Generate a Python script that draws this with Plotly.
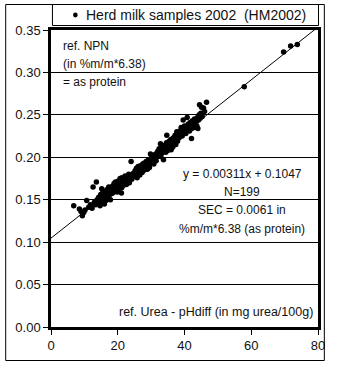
import plotly.graph_objects as go

# Herd milk samples 2002 (HM2002): reference urea (pH-diff, mg urea/100g) vs reference NPN (as protein)
urea = [
    6.8, 8.5, 9.0, 9.4, 9.8, 10.2, 10.7, 11.3, 11.8, 12.3,
    12.6, 13.6, 13.0, 13.4, 13.8, 14.0, 14.3, 14.5, 14.7, 14.9,
    15.1, 15.3, 15.5, 15.6, 15.8, 16.0, 16.1, 16.3, 16.5, 16.6,
    16.8, 17.0, 17.1, 17.3, 17.4, 17.6, 17.8, 17.9, 18.0, 15.2,
    18.2, 18.4, 18.5, 18.7, 18.9, 19.0, 19.2, 19.3, 19.5, 19.7,
    19.8, 20.0, 20.2, 20.3, 20.5, 20.7, 20.8, 21.0, 21.2, 21.3,
    21.5, 21.7, 21.9, 22.0, 22.2, 22.4, 22.6, 22.8, 23.0, 23.3,
    23.5, 23.8, 24.0, 24.2, 24.6,
    25.0, 25.2, 25.4, 25.6, 25.8, 25.9, 26.1, 26.3, 26.5, 26.6,
    26.8, 27.0, 27.1, 27.3, 27.5, 27.6, 27.8, 27.9, 28.0, 28.2,
    28.4, 28.5, 28.7, 28.9, 29.0, 29.2, 29.4, 29.5, 29.7, 29.8,
    30.0, 30.2, 30.4, 30.6, 30.8, 31.0, 31.3, 31.5, 31.7, 31.9,
    32.0, 32.2, 32.4, 32.6, 32.8, 32.9, 33.1, 33.3, 33.5, 33.7,
    33.8, 34.0, 34.2, 34.4, 34.6, 34.7, 34.9, 35.0, 35.2, 35.4,
    35.6, 35.7, 35.9, 36.1, 36.3, 36.5, 36.7, 36.8, 37.0, 37.2,
    37.4, 37.6, 37.7, 37.9, 38.0,
    38.2, 38.4, 38.6, 38.8, 39.0, 39.1, 39.3, 39.5, 39.6, 39.8,
    40.0, 40.2, 40.4, 40.6, 40.8, 40.9, 41.1, 41.3, 41.5, 41.7,
    41.9, 42.1, 42.2, 42.4, 42.6, 42.8, 43.0, 43.2, 43.5, 43.7,
    43.9, 44.0, 44.2, 44.4, 44.5, 44.7, 44.9, 45.0, 45.3, 45.7,
    46.0, 46.6,
    57.9, 69.7, 71.8, 73.8,
    45.1, 21.1, 36.0,
]
npn = [
    0.143, 0.139, 0.136, 0.131, 0.135, 0.138, 0.149, 0.141, 0.144, 0.140,
    0.165, 0.171, 0.147, 0.144, 0.150, 0.146, 0.153, 0.149, 0.143, 0.156,
    0.152, 0.147, 0.158, 0.150, 0.155, 0.145, 0.160, 0.153, 0.149, 0.157,
    0.162, 0.152, 0.158, 0.165, 0.155, 0.160, 0.150, 0.163, 0.157, 0.163,
    0.161, 0.166, 0.158, 0.163, 0.169, 0.160, 0.165, 0.171, 0.163, 0.168,
    0.159, 0.166, 0.172, 0.163, 0.169, 0.175, 0.166, 0.170, 0.164, 0.176,
    0.171, 0.167, 0.174, 0.170, 0.178, 0.172, 0.168, 0.176, 0.173, 0.180,
    0.170, 0.177, 0.195, 0.174, 0.181,
    0.178, 0.184, 0.180, 0.187, 0.176, 0.183, 0.189, 0.181, 0.186, 0.179,
    0.190, 0.184, 0.188, 0.182, 0.192, 0.186, 0.189, 0.193, 0.185, 0.191,
    0.188, 0.195, 0.190, 0.186, 0.193, 0.197, 0.191, 0.188, 0.195, 0.204,
    0.199, 0.194, 0.201, 0.197, 0.192, 0.203, 0.199, 0.196, 0.205, 0.201,
    0.207, 0.203, 0.210, 0.206, 0.216, 0.201, 0.209, 0.205, 0.212, 0.197,
    0.208, 0.214, 0.210, 0.206, 0.217, 0.226, 0.212, 0.208, 0.215, 0.219,
    0.211, 0.216, 0.221, 0.214, 0.218, 0.212, 0.223, 0.217, 0.220, 0.226,
    0.215, 0.222, 0.230, 0.219, 0.224,
    0.228, 0.223, 0.231, 0.226, 0.235, 0.229, 0.225, 0.233, 0.244, 0.230,
    0.237, 0.232, 0.228, 0.236, 0.247, 0.233, 0.239, 0.235, 0.231, 0.241,
    0.237, 0.222, 0.234, 0.243, 0.239, 0.235, 0.245, 0.241, 0.242, 0.237,
    0.247, 0.234, 0.244, 0.250, 0.262, 0.246, 0.252, 0.250, 0.248, 0.258,
    0.254, 0.265,
    0.283, 0.324, 0.331, 0.333,
    0.259, 0.158, 0.209,
]

# Calibration line y = slope * x + intercept
slope = 0.00311
intercept = 0.1047
n_samples = 199
sec = 0.0061
line_x = [0, 80]

x_ticks = [0, 20, 40, 60, 80]
y_ticks = [0.00, 0.05, 0.10, 0.15, 0.20, 0.25, 0.30, 0.35]

W, H = 337, 368
L, R, T, B = 51, 12, 30, 41
PW, PH = W - L - R, H - T - B
FONT = "Liberation Sans, Arial, sans-serif"
INK = "#111111"


def px(x):
    return (x - L) / PW


def py(y):
    return (H - B - y) / PH


fig = go.Figure()
fig.add_trace(go.Scatter(
    x=line_x, y=[slope * v + intercept for v in line_x],
    mode="lines", line=dict(color="black", width=1), hoverinfo="skip",
    showlegend=False,
))
fig.add_trace(go.Scatter(
    x=urea, y=npn, mode="markers",
    marker=dict(color="black", size=5.5, line=dict(width=0)),
    name="Herd milk samples 2002  (HM2002)", showlegend=False,
))

annotations = []


def label(text, x, y, xanchor="left", size=12):
    annotations.append(dict(
        text=text, x=px(x), y=py(y), xref="paper", yref="paper",
        xanchor=xanchor, yanchor="middle", showarrow=False,
        font=dict(family=FONT, size=size, color=INK),
    ))


label("ref. NPN", 61, 45.5)
label("(in %m/m*6.38)", 61, 64)
label("= as protein", 61, 82)

label(f"y = {slope}x + {intercept}", 247.5, 173.5, xanchor="center")
label(f"N={n_samples}", 247.5, 192, xanchor="center")
label(f"SEC = {sec} in", 247.5, 210, xanchor="center")
label("%m/m*6.38 (as protein)", 247.5, 228.5, xanchor="center")

label("ref. Urea - pHdiff (in mg urea/100g)", 322, 312, xanchor="right", size=12.5)

# Legend entry text and key
label("Herd milk samples 2002  (HM2002)", 85, 15, size=14)

shapes = [
    # outer frame
    dict(type="rect", xref="paper", yref="paper",
         x0=px(4.5), x1=px(331.5), y0=py(360.5), y1=py(4.5),
         line=dict(color="black", width=1)),
    # legend box
    dict(type="rect", xref="paper", yref="paper",
         x0=px(52.5), x1=px(325.5), y0=py(25.5), y1=py(4.5),
         line=dict(color="black", width=1)),
    # legend key dot
    dict(type="circle", xref="paper", yref="paper",
         x0=px(73.6), x1=px(78.4), y0=py(17.4), y1=py(12.6),
         fillcolor="black", line=dict(width=0)),
]

fig.update_layout(
    width=W, height=H,
    margin=dict(l=L, r=R, t=T, b=B, pad=0),
    paper_bgcolor="white", plot_bgcolor="white",
    font=dict(family=FONT, size=13, color=INK),
    showlegend=False,
    annotations=annotations,
    shapes=shapes,
)
fig.update_xaxes(
    range=[0, 80], tickvals=x_ticks, ticktext=[str(v) for v in x_ticks],
    showgrid=False, zeroline=False,
    showline=True, linecolor="black", linewidth=2.5, mirror=True,
    ticks="outside", ticklen=5, tickwidth=1, tickcolor="black",
    tickfont=dict(size=13),
)
fig.update_yaxes(
    range=[0, 0.35], tickvals=y_ticks, ticktext=[f"{v:.2f}" for v in y_ticks],
    showgrid=True, gridcolor="black", gridwidth=1, zeroline=False,
    showline=True, linecolor="black", linewidth=2.5, mirror=True,
    ticks="outside", ticklen=5, tickwidth=1, tickcolor="black",
    tickfont=dict(size=13),
)

fig.write_html("out.html")
